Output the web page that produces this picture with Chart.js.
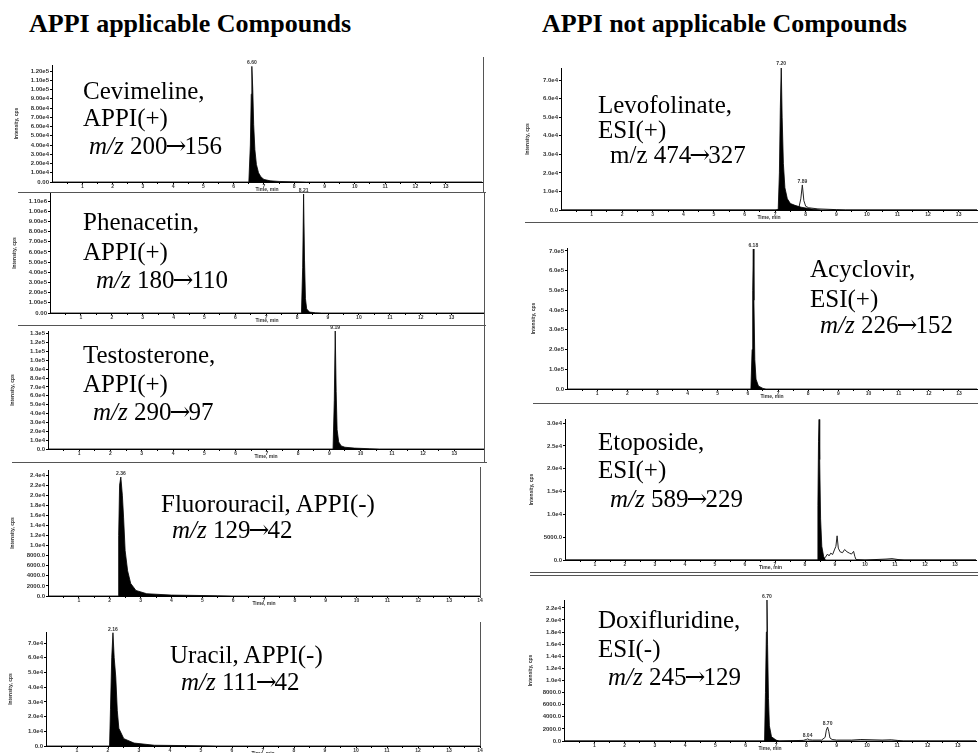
<!DOCTYPE html>
<html><head><meta charset="utf-8">
<script src="https://cdn.jsdelivr.net/npm/chart.js@4/dist/chart.umd.min.js"></script>
<style>
html,body{margin:0;padding:0;background:#fff;overflow:hidden;width:978px;height:753px;}
body{position:relative;}
canvas{position:absolute;z-index:1;}
.t{position:absolute;z-index:3;font-family:'Liberation Serif','Times New Roman',serif;font-size:25px;line-height:25px;white-space:nowrap;color:#000;}
.h{position:absolute;z-index:3;font-family:'Liberation Serif','Times New Roman',serif;font-weight:bold;font-size:26px;line-height:26px;white-space:nowrap;color:#000;}
.a{font-family:'DejaVu Serif','DejaVu Sans',serif;margin:0 -2px;}
.ln{position:absolute;z-index:2;background:#555;}
</style></head><body>
<div class="h" style="left:29px;top:11px">APPI applicable Compounds</div>
<div class="h" style="left:542px;top:11px">APPI not applicable Compounds</div>

<div class="t" style="left:83px;top:78px">Cevimeline,</div>
<div class="t" style="left:83px;top:105px">APPI(+)</div>
<div class="t" style="left:89px;top:133px"><i>m/z</i> 200<span class="a">→</span>156</div>

<div class="t" style="left:83px;top:209px">Phenacetin,</div>
<div class="t" style="left:83px;top:239px">APPI(+)</div>
<div class="t" style="left:96px;top:267px"><i>m/z</i> 180<span class="a">→</span>110</div>

<div class="t" style="left:83px;top:342px">Testosterone,</div>
<div class="t" style="left:83px;top:371px">APPI(+)</div>
<div class="t" style="left:93px;top:399px"><i>m/z</i> 290<span class="a">→</span>97</div>

<div class="t" style="left:161px;top:491px">Fluorouracil, APPI(-)</div>
<div class="t" style="left:172px;top:517px"><i>m/z</i> 129<span class="a">→</span>42</div>

<div class="t" style="left:170px;top:642px">Uracil, APPI(-)</div>
<div class="t" style="left:181px;top:669px"><i>m/z</i> 111<span class="a">→</span>42</div>

<div class="t" style="left:598px;top:92px">Levofolinate,</div>
<div class="t" style="left:598px;top:117px">ESI(+)</div>
<div class="t" style="left:610px;top:142px">m/z 474<span class="a">→</span>327</div>

<div class="t" style="left:810px;top:256px">Acyclovir,</div>
<div class="t" style="left:810px;top:286px">ESI(+)</div>
<div class="t" style="left:820px;top:312px"><i>m/z</i> 226<span class="a">→</span>152</div>

<div class="t" style="left:598px;top:429px">Etoposide,</div>
<div class="t" style="left:598px;top:457px">ESI(+)</div>
<div class="t" style="left:610px;top:486px"><i>m/z</i> 589<span class="a">→</span>229</div>

<div class="t" style="left:598px;top:607px">Doxifluridine,</div>
<div class="t" style="left:598px;top:636px">ESI(-)</div>
<div class="t" style="left:608px;top:664px"><i>m/z</i> 245<span class="a">→</span>129</div>

<!-- panel frames -->
<div class="ln" style="left:483px;top:57px;width:1px;height:135px"></div>
<div class="ln" style="left:18px;top:192px;width:468px;height:1px"></div>
<div class="ln" style="left:484px;top:192px;width:1px;height:133px"></div>
<div class="ln" style="left:18px;top:325px;width:468px;height:1px"></div>
<div class="ln" style="left:484px;top:325px;width:1px;height:137px"></div>
<div class="ln" style="left:12px;top:462px;width:475px;height:1px"></div>
<div class="ln" style="left:480px;top:467px;width:1px;height:131px"></div>
<div class="ln" style="left:480px;top:622px;width:1px;height:124px"></div>
<div class="ln" style="left:525px;top:222px;width:453px;height:1px"></div>
<div class="ln" style="left:533px;top:403px;width:445px;height:1px"></div>
<div class="ln" style="left:530px;top:572px;width:448px;height:1px"></div>
<div class="ln" style="left:530px;top:575px;width:448px;height:1px"></div>

<script>
// ---------- data ----------
const xTickValues = [0.5,1,1.5,2,2.5,3,3.5,4,4.5,5,5.5,6,6.5,7,7.5,8,8.5,9,9.5,10,10.5,11,11.5,12,12.5,13,13.5,14];
const xTickLabels = ['1','2','3','4','5','6','7','8','9','10','11','12','13','14'];

const cevYTicks = [0,1e4,2e4,3e4,4e4,5e4,6e4,7e4,8e4,9e4,1e5,1.1e5,1.2e5];
const cevYLabels = ['0.00','1.00e4','2.00e4','3.00e4','4.00e4','5.00e4','6.00e4','7.00e4','8.00e4','9.00e4','1.00e5','1.10e5','1.20e5'];
const cevTime = [0,6.50,6.55,6.58,6.60,6.63,6.66,6.70,6.75,6.82,6.90,7.00,7.20,7.50,8.00,8.40,14.2];
const cevIntensity = [0,0,40000,95000,125000,100000,62000,35000,19000,10000,5500,2800,1300,600,200,0,0];
const cevPeakTimes = [6.60];

const phenYTicks = [0,1e5,2e5,3e5,4e5,5e5,6e5,7e5,8e5,9e5,1e6,1.1e6];
const phenYLabels = ['0.00','1.00e5','2.00e5','3.00e5','4.00e5','5.00e5','6.00e5','7.00e5','8.00e5','9.00e5','1.00e6','1.10e6'];
const phenTime = [0,8.14,8.18,8.21,8.24,8.27,8.31,8.40,8.60,8.80,14.05];
const phenIntensity = [0,0,450000,1170000,520000,140000,40000,9000,2000,0,0];
const phenPeakTimes = [8.21];

const testYTicks = [0,1e4,2e4,3e4,4e4,5e4,6e4,7e4,8e4,9e4,1e5,1.1e5,1.2e5,1.3e5];
const testYLabels = ['0.0','1.0e4','2.0e4','3.0e4','4.0e4','5.0e4','6.0e4','7.0e4','8.0e4','9.0e4','1.0e5','1.1e5','1.2e5','1.3e5'];
const testTime = [0,9.12,9.16,9.19,9.22,9.25,9.30,9.38,9.50,9.80,10.3,10.6,13.95];
const testIntensity = [0,0,55000,133000,65000,22000,8000,3500,2000,1000,300,0,0];
const testPeakTimes = [9.19];

const fluYTicks = [0,2000,4000,6000,8000,1e4,1.2e4,1.4e4,1.6e4,1.8e4,2e4,2.2e4,2.4e4];
const fluYLabels = ['0.0','2000.0','4000.0','6000.0','8000.0','1.0e4','1.2e4','1.4e4','1.6e4','1.8e4','2.0e4','2.2e4','2.4e4'];
const fluTime = [0,2.27,2.29,2.32,2.36,2.41,2.45,2.50,2.58,2.68,2.85,3.20,4.00,5.50,6.00,14];
const fluIntensity = [0,0,12000,22000,23600,20000,15500,9000,5000,2500,1100,450,180,50,0,0];
const fluPeakTimes = [2.36];

const uraYTicks = [0,1e4,2e4,3e4,4e4,5e4,6e4,7e4];
const uraYLabels = ['0.0','1.0e4','2.0e4','3.0e4','4.0e4','5.0e4','6.0e4','7.0e4'];
const uraTime = [0,2.05,2.08,2.12,2.16,2.20,2.25,2.30,2.35,2.51,2.84,3.50,5.00,5.50,14];
const uraIntensity = [0,0,25000,60000,77000,60000,47000,24000,12000,5000,2000,500,150,0,0];
const uraPeakTimes = [2.16];

const levoYTicks = [0,1e4,2e4,3e4,4e4,5e4,6e4,7e4];
const levoYLabels = ['0.0','1.0e4','2.0e4','3.0e4','4.0e4','5.0e4','6.0e4','7.0e4'];
const levoTime = [0,7.10,7.14,7.17,7.20,7.23,7.27,7.32,7.40,7.50,7.65,7.85,8.20,8.50,13.6];
const levoIntensity = [0,0,20000,55000,77000,50000,25000,12000,6000,3500,2500,1500,500,0,0];
const levo2Time = [0,7.00,7.30,7.60,7.78,7.84,7.89,7.94,8.00,8.10,8.40,9.00,9.30,13.6];
const levo2Intensity = [0,0,800,1200,1500,6000,13500,5000,2000,1200,600,200,0,0];
const levoPeakTimes = [7.20,7.89];

const acyYTicks = [0,1e5,2e5,3e5,4e5,5e5,6e5,7e5];
const acyYLabels = ['0.0','1.0e5','2.0e5','3.0e5','4.0e5','5.0e5','6.0e5','7.0e5'];
const acyTime = [0,6.10,6.14,6.16,6.18,6.20,6.23,6.27,6.35,6.50,6.60,13.6];
const acyIntensity = [0,0,200000,500000,710000,450000,150000,50000,15000,3000,0,0];
const acyPeakTimes = [6.18];

const etoYTicks = [0,5000,1e4,1.5e4,2e4,2.5e4,3e4];
const etoYLabels = ['0.0','5000.0','1.0e4','1.5e4','2.0e4','2.5e4','3.0e4'];
const etoTime = [0,8.40,8.43,8.45,8.47,8.49,8.52,8.56,8.62,8.68,13.7];
const etoIntensity = [0,0,12000,26000,30800,22000,9000,3000,800,0,0];
const eto2Time = [0,8.60,8.68,8.75,8.80,8.86,8.92,8.98,9.03,9.07,9.11,9.17,9.25,9.32,9.40,9.48,9.55,9.62,9.66,9.70,10.0,10.7,10.9,11.1,11.3,13.7];
const eto2Intensity = [0,0,600,1300,900,1500,1200,2200,3000,5300,2600,1800,1600,2300,1800,1500,1300,1900,800,100,0,200,300,100,0,0];
const etoPeakTimes = [];

const doxYTicks = [0,2000,4000,6000,8000,1e4,1.2e4,1.4e4,1.6e4,1.8e4,2e4,2.2e4];
const doxYLabels = ['0.0','2000.0','4000.0','6000.0','8000.0','1.0e4','1.2e4','1.4e4','1.6e4','1.8e4','2.0e4','2.2e4'];
const doxTime = [0,6.62,6.65,6.68,6.70,6.72,6.75,6.78,6.85,7.00,7.10,13.6];
const doxIntensity = [0,0,8000,18000,23300,16000,7000,2500,700,150,0,0];
const dox2Time = [0,7.00,7.90,8.00,8.04,8.10,8.20,8.50,8.62,8.66,8.70,8.74,8.78,8.85,9.00,9.50,9.80,10.5,10.8,11.0,11.2,13.6];
const dox2Intensity = [0,0,100,250,350,200,150,150,600,1800,2300,1600,500,250,150,150,250,150,200,100,0,0];
const doxPeakTimes = [6.70,8.04,8.70];

// ---------- layout (plot-area placement on the page) ----------
const TP = 10, XH = 11;
const panels = [
  {L:52, R:482, T:65, B:182, YW:38, xMax:14.2, xLast:13, yMax:126500, yT:cevYTicks, yL:cevYLabels, peaks:cevPeakTimes,
   series:[{t:cevTime, v:cevIntensity, fill:true}]},
  {L:50, R:484, T:193, B:313, YW:38, xMax:14.05, xLast:13, yMax:1180000, yT:phenYTicks, yL:phenYLabels, peaks:phenPeakTimes,
   series:[{t:phenTime, v:phenIntensity, fill:true}]},
  {L:48, R:484, T:331, B:449, YW:38, xMax:13.95, xLast:13, yMax:133000, yT:testYTicks, yL:testYLabels, peaks:testPeakTimes,
   series:[{t:testTime, v:testIntensity, fill:true}]},
  {L:48, R:480, T:470, B:596, YW:38, xMax:14, xLast:14, yMax:25000, yT:fluYTicks, yL:fluYLabels, peaks:fluPeakTimes,
   series:[{t:fluTime, v:fluIntensity, fill:true}]},
  {L:46, R:480, T:632, B:746, YW:38, xMax:14, xLast:14, yMax:77500, yT:uraYTicks, yL:uraYLabels, peaks:uraPeakTimes,
   series:[{t:uraTime, v:uraIntensity, fill:true}]},
  {L:561, R:977, T:68, B:210, YW:36, xMax:13.6, xLast:13, yMax:76500, yT:levoYTicks, yL:levoYLabels, peaks:levoPeakTimes,
   series:[{t:levoTime, v:levoIntensity, fill:true},{t:levo2Time, v:levo2Intensity, fill:false}]},
  {L:567, R:977, T:248, B:389, YW:36, xMax:13.6, xLast:13, yMax:715000, yT:acyYTicks, yL:acyYLabels, peaks:acyPeakTimes,
   series:[{t:acyTime, v:acyIntensity, fill:true}]},
  {L:565, R:976, T:419, B:560, YW:36, xMax:13.7, xLast:13, yMax:30900, yT:etoYTicks, yL:etoYLabels, peaks:etoPeakTimes,
   series:[{t:etoTime, v:etoIntensity, fill:true},{t:eto2Time, v:eto2Intensity, fill:false}]},
  {L:564, R:976, T:600, B:741, YW:36, xMax:13.6, xLast:13, yMax:23300, yT:doxYTicks, yL:doxYLabels, peaks:doxPeakTimes,
   series:[{t:doxTime, v:doxIntensity, fill:true},{t:dox2Time, v:dox2Intensity, fill:false}]}
];

const peakLabelPlugin = {
  id: 'peakLabels',
  afterDatasetsDraw(chart, args, opts) {
    const times = opts.times || [];
    if (!times.length) return;
    const {ctx} = chart, xs = chart.scales.x, ys = chart.scales.y;
    ctx.save();
    ctx.font = 'bold 5px "Liberation Sans", Arial, sans-serif';
    ctx.fillStyle = '#333';
    ctx.textAlign = 'center';
    ctx.textBaseline = 'bottom';
    times.forEach(t => {
      let v = 0;
      chart.data.datasets.forEach(ds => ds.data.forEach(p => { if (Math.abs(p.x - t) < 1e-9 && p.y > v) v = p.y; }));
      ctx.fillText(t.toFixed(2), xs.getPixelForValue(t), ys.getPixelForValue(v) - 1);
    });
    ctx.restore();
  }
};

const tickFont = {family:'"Liberation Sans", Arial, sans-serif', size:5, weight:'bold'};
const yTickFont = {family:'"Liberation Sans", Arial, sans-serif', size:6, weight:'bold'};

panels.forEach(p => {
  const c = document.createElement('canvas');
  const cl = p.L - p.YW, ct = p.T - TP;
  const rp = Math.max(0, Math.min(3, 978 - p.R));
  const w = p.R - cl + rp, h = p.B - ct + XH;
  c.width = w; c.height = h;
  c.style.left = cl + 'px'; c.style.top = ct + 'px';
  c.style.width = w + 'px'; c.style.height = h + 'px';
  document.body.appendChild(c);
  new Chart(c, {
    type: 'line',
    data: {datasets: p.series.map(s => ({
      data: s.t.map((t, i) => ({x: t, y: s.v[i]})),
      fill: s.fill ? 'origin' : false,
      backgroundColor: '#000',
      borderColor: s.fill ? '#000' : '#222',
      borderWidth: s.fill ? 0.8 : 1,
      pointRadius: 0, tension: 0
    }))},
    options: {
      responsive: false, animation: false, devicePixelRatio: 1,
      layout: {padding: {top: TP, right: rp, left: 0, bottom: 0}},
      plugins: {legend: {display: false}, tooltip: {enabled: false}, peakLabels: {times: p.peaks}},
      scales: {
        x: {
          type: 'linear', min: 0, max: p.xMax, bounds: 'data',
          afterBuildTicks: s => { s.ticks = xTickValues.filter(v => v <= p.xLast + 1e-9).map(v => ({value: v})); },
          afterFit: s => { s.height = XH; s.paddingLeft = 0; s.paddingRight = 0; },
          grid: {drawOnChartArea: false, drawTicks: true, tickLength: 2, color: '#000'},
          border: {display: true, color: '#000', width: 1},
          ticks: {autoSkip: false, maxRotation: 0, minRotation: 0, padding: 0, font: tickFont, color: '#333',
                  callback: v => Number.isInteger(v) ? xTickLabels[v - 1] : ''},
          title: {display: true, text: 'Time, min', font: tickFont, color: '#333', padding: 0}
        },
        y: {
          type: 'linear', min: 0, max: p.yMax, bounds: 'data',
          afterBuildTicks: s => { s.ticks = p.yT.map(v => ({value: v})); },
          afterFit: s => { s.width = p.YW; s.paddingTop = 0; s.paddingBottom = 0; },
          grid: {drawOnChartArea: false, drawTicks: true, tickLength: 2, color: '#000'},
          border: {display: true, color: '#000', width: 1},
          ticks: {autoSkip: false, padding: 1, font: yTickFont, color: '#333',
                  callback: (v, i) => p.yL[i]},
          title: {display: true, text: 'Intensity, cps', font: tickFont, color: '#333', padding: 0}
        }
      }
    },
    plugins: [peakLabelPlugin]
  });
});
</script>
</body></html>
